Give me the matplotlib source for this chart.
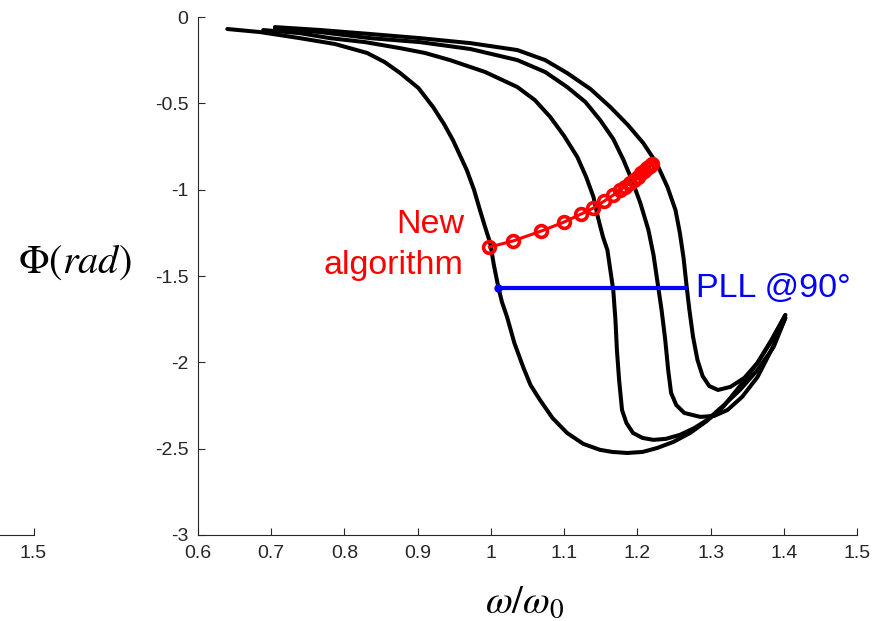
import matplotlib.pyplot as plt

plt.rcParams['font.family'] = ['Liberation Sans', 'DejaVu Sans']
plt.rcParams['axes.unicode_minus'] = False
plt.rcParams['mathtext.fontset'] = 'stix'

# phase curves (omega/omega0, phase in rad)
a_x = [0.640, 0.685, 0.739, 0.787, 0.831, 0.855, 0.876, 0.901, 0.921, 0.936, 0.948, 0.967,
       0.977, 0.985, 0.992, 0.999, 1.004, 1.010, 1.015, 1.022, 1.032, 1.044, 1.054, 1.067,
       1.084, 1.104, 1.126, 1.149, 1.166, 1.186, 1.207, 1.227, 1.249, 1.272, 1.295, 1.317,
       1.340, 1.364, 1.383, 1.402]
a_y = [-0.069, -0.087, -0.122, -0.156, -0.208, -0.261, -0.324, -0.411, -0.521, -0.620, -0.712, -0.886,
       -1.002, -1.118, -1.216, -1.309, -1.436, -1.563, -1.650, -1.737, -1.888, -2.027, -2.131, -2.218,
       -2.322, -2.409, -2.472, -2.507, -2.519, -2.525, -2.519, -2.496, -2.461, -2.409, -2.339, -2.258,
       -2.137, -2.003, -1.870, -1.726]

b_x = [0.689, 0.739, 0.780, 0.828, 0.876, 0.910, 0.944, 0.992, 1.036, 1.060, 1.081, 1.100,
       1.118, 1.130, 1.140, 1.146, 1.153, 1.159, 1.163, 1.167, 1.170, 1.172, 1.175, 1.179,
       1.185, 1.194, 1.207, 1.222, 1.239, 1.258, 1.278, 1.295, 1.317, 1.340, 1.364, 1.386, 1.402]
b_y = [-0.075, -0.093, -0.122, -0.145, -0.180, -0.208, -0.249, -0.318, -0.405, -0.481, -0.579, -0.689,
       -0.811, -0.926, -1.042, -1.158, -1.274, -1.349, -1.465, -1.581, -1.754, -1.928, -2.102, -2.276,
       -2.351, -2.409, -2.438, -2.449, -2.443, -2.420, -2.380, -2.334, -2.252, -2.160, -2.044, -1.911, -1.743]

c_x = [0.705, 0.767, 0.835, 0.903, 0.972, 1.036, 1.074, 1.104, 1.129, 1.149, 1.167, 1.181,
       1.193, 1.204, 1.215, 1.222, 1.227, 1.233, 1.238, 1.242, 1.246, 1.253, 1.264, 1.286,
       1.305, 1.323, 1.343, 1.364, 1.383, 1.402]
c_y = [-0.064, -0.087, -0.122, -0.145, -0.185, -0.249, -0.318, -0.405, -0.492, -0.596, -0.706, -0.828,
       -0.950, -1.077, -1.233, -1.378, -1.523, -1.697, -1.870, -2.044, -2.177, -2.247, -2.293, -2.316,
       -2.310, -2.276, -2.200, -2.085, -1.928, -1.743]

d_x = [0.705, 0.767, 0.835, 0.903, 0.972, 1.036, 1.074, 1.104, 1.136, 1.163, 1.187, 1.208,
       1.226, 1.241, 1.252, 1.258, 1.263, 1.267, 1.271, 1.276, 1.282, 1.289, 1.298, 1.310,
       1.327, 1.346, 1.364, 1.383, 1.402]
d_y = [-0.058, -0.075, -0.098, -0.122, -0.151, -0.191, -0.249, -0.324, -0.417, -0.521, -0.625, -0.730,
       -0.845, -0.984, -1.118, -1.251, -1.395, -1.552, -1.697, -1.853, -1.986, -2.079, -2.137, -2.160,
       -2.142, -2.090, -2.003, -1.876, -1.726]

# new algorithm tracking points
new_x = [0.998, 1.030, 1.069, 1.100, 1.123, 1.140, 1.155, 1.167, 1.176, 1.183, 1.190,
         1.196, 1.201, 1.205, 1.209, 1.213, 1.217, 1.220]
new_y = [-1.332, -1.297, -1.239, -1.187, -1.141, -1.106, -1.065, -1.031, -1.002, -0.984, -0.961,
         -0.944, -0.926, -0.903, -0.892, -0.874, -0.863, -0.851]

# PLL locked at 90 degrees
pll_x = [1.010, 1.265]
pll_y = [-1.5708, -1.5708]

xticks = [0.6, 0.7, 0.8, 0.9, 1.0, 1.1, 1.2, 1.3, 1.4, 1.5]
xtick_labels = ['0.6', '0.7', '0.8', '0.9', '1', '1.1', '1.2', '1.3', '1.4', '1.5']
yticks = [0, -0.5, -1, -1.5, -2, -2.5, -3]
ytick_labels = ['0', '-0.5', '-1', '-1.5', '-2', '-2.5', '-3']

grey = '#262626'

fig = plt.figure(figsize=(8.8, 6.21), dpi=100)
ax = fig.add_axes([0.225, 0.1385, 0.749, 0.834])

for xs, ys in [(a_x, a_y), (b_x, b_y), (c_x, c_y), (d_x, d_y)]:
    ax.plot(xs, ys, color='black', lw=2.9, solid_capstyle='round', solid_joinstyle='round')

ax.plot(pll_x, pll_y, color='blue', lw=3.0, marker='.', markersize=10, markevery=[0])
ax.plot(new_x, new_y, color='red', lw=2.2, marker='o', markersize=8.5,
        markerfacecolor='none', markeredgewidth=2.6)

ax.text(0.963, -1.32, 'New\nalgorithm', color='red', fontsize=24.5, ha='right',
        va='center', linespacing=1.45)
ax.text(1.28, -1.621, 'PLL @90°', color='blue', fontsize=24.5, ha='left', va='baseline')

ax.set_xlim(0.6, 1.5)
ax.set_ylim(-3, 0)
ax.set_xticks(xticks)
ax.set_xticklabels(xtick_labels)
ax.set_yticks(yticks)
ax.set_yticklabels(ytick_labels)
ax.spines['top'].set_visible(False)
ax.spines['right'].set_visible(False)
for s in ['left', 'bottom']:
    ax.spines[s].set_color(grey)
    ax.spines[s].set_linewidth(0.8)
ax.tick_params(direction='in', length=5, width=0.8, colors=grey, labelsize=14, pad=7)

fig.text(0.085, 1 - 262 / 621, r'$\Phi(rad)$', fontsize=29, ha='center', va='center')
fig.text(525 / 880, 1 - 603 / 621, r'$\omega/\omega_0$', fontsize=28, ha='center', va='center')

# fragment of the neighbouring panel's axis on the left edge
ax2 = fig.add_axes([0, 0.1385, 33.5 / 880, 0.02])
ax2.set_xlim(1.45, 1.5)
ax2.set_xticks([1.5])
ax2.set_xticklabels(['1.5'])
ax2.set_yticks([])
for s in ['top', 'right', 'left']:
    ax2.spines[s].set_visible(False)
ax2.spines['bottom'].set_color(grey)
ax2.spines['bottom'].set_linewidth(0.8)
ax2.tick_params(direction='in', length=5, width=0.8, colors=grey, labelsize=14, pad=7)
ax2.patch.set_alpha(0)

fig.savefig('out.png', dpi=100)
